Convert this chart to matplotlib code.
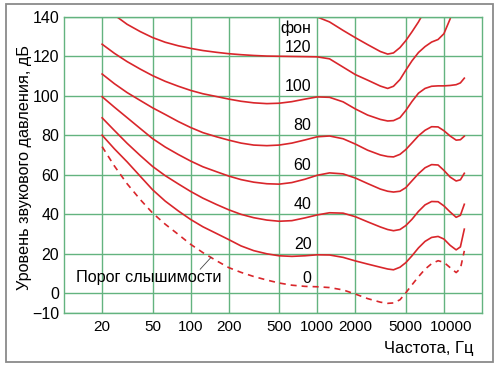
import numpy as np
import matplotlib
matplotlib.use("Agg")
import matplotlib.pyplot as plt
from matplotlib.patches import Rectangle
from matplotlib.transforms import ScaledTranslation

plt.rcParams['font.family'] = ['Liberation Sans', 'DejaVu Sans']

nan = np.nan
freq = [20, 25, 31.5, 40, 50, 63, 80, 100, 125, 160, 200, 250, 315, 400, 500,
        630, 800, 1000, 1250, 1600, 2000, 2500, 3150, 3600, 4000, 4500, 5000,
        5600, 6300, 7100, 8000, 9000, 10000, 11200, 12500, 13500, 14500]

# equal-loudness contours, dB SPL per phon level
phon_0 = [74.3, 64.5, 55.5, 47.5, 40.7, 35.0, 29.8, 24.8, 20.6, 16.5, 13.0, 10.6, 8.5, 6.7, 5.2,
          4.1, 3.5, 3.3, 2.9, 1.7, -0.4, -2.7, -4.5, -5.1, -4.9, -3.3, 0.2,
          4.3, 8.4, 12.2, 15.0, 16.5, 15.7, 13.0, 10.5, 12.5, 21.5]
phon_20 = [80.1, 73.2, 66.6, 59.3, 52.5, 46.7, 41.7, 37.4, 33.7, 30.3, 27.2, 24.0, 21.6, 20.0, 19.0,
           18.7, 19.0, 19.5, 19.4, 18.2, 16.4, 14.8, 13.2, 12.3, 11.9, 13.2, 15.5,
           19.0, 23.0, 26.3, 28.3, 28.8, 27.5, 24.3, 22.0, 23.5, 32.5]
phon_40 = [88.9, 82.5, 76.0, 69.8, 64.3, 59.6, 55.4, 51.6, 48.2, 45.0, 42.3, 40.0, 38.3, 37.1, 36.5,
           36.8, 38.2, 39.7, 40.8, 40.6, 38.8, 36.2, 33.6, 32.3, 31.7, 32.3, 34.3,
           37.5, 41.5, 44.8, 46.5, 46.4, 44.3, 41.2, 38.5, 39.5, 45.1]
phon_60 = [99.6, 94.3, 89.0, 83.5, 78.4, 74.1, 70.3, 67.0, 64.1, 61.6, 59.4, 57.6, 56.3, 55.5, 55.3,
           56.1, 57.8, 59.8, 61.0, 60.5, 58.4, 55.6, 52.8, 51.7, 51.3, 51.7, 53.5,
           57.0, 60.6, 63.6, 65.2, 65.0, 62.3, 58.9, 56.9, 57.5, 60.8]
phon_80 = [111.1, 106.2, 101.7, 97.7, 94.0, 90.6, 87.0, 84.0, 81.4, 79.3, 77.6, 76.1, 75.1, 74.8, 75.1,
           76.1, 77.7, 79.3, 79.7, 78.3, 75.6, 72.5, 70.1, 69.3, 69.1, 70.4, 72.8,
           76.2, 79.8, 82.6, 84.4, 84.3, 82.4, 79.7, 77.6, 77.8, 79.6]
phon_100 = [126.2, 121.6, 117.4, 113.6, 110.3, 107.4, 104.9, 102.8, 101.1, 99.7, 98.4, 97.3, 96.5, 96.1, 96.3,
            97.1, 98.4, 99.5, 99.3, 97.0, 93.4, 90.3, 88.1, 87.3, 87.5, 89.0, 92.6,
            97.2, 101.4, 103.8, 104.9, 105.1, 105.1, 105.3, 105.7, 106.6, 109.0]
phon_120 = [146.5, 141.0, 136.3, 132.6, 129.6, 127.2, 125.4, 124.1, 123.0, 122.1, 121.4, 120.9, 120.5, 120.2, 120.1,
            120.0, 119.9, 119.8, 118.8, 114.6, 110.8, 108.0, 105.0, 103.8, 104.9, 108.3, 113.0,
            117.8, 122.0, 125.0, 127.3, 128.6, 131.5, 139.0, 150.0, nan, nan]
phon_140 = [nan, nan, nan, nan, nan, nan, nan, nan, nan, nan, nan, nan, nan, nan, nan,
            141.5, 141.0, 140.0, 137.5, 133.2, 129.5, 126.0, 122.5, 121.2, 121.8, 124.5, 128.0,
            132.5, 137.5, 143.5, nan, nan, nan, nan, nan, nan, nan]

xticks = [20, 50, 100, 200, 500, 1000, 2000, 5000, 10000]
yticks = [-10, 0, 20, 40, 60, 80, 100, 120, 140]
phon_labels = ['0', '20', '40', '60', '80', '100', '120']
phon_label_y = [7.6, 24.8, 44.8, 64.7, 84.8, 104.7, 124.5]

red = '#d9262b'
green = '#63b37f'

fig = plt.figure(figsize=(5, 3.67), dpi=100)
fig.patches.append(Rectangle((6 / 500, 1 - 362 / 367), 487 / 500, 358 / 367,
                             transform=fig.transFigure, fill=False,
                             edgecolor='#8a8a8a', linewidth=1.3))
ax = fig.add_axes([0.128, 0.1471, 0.836, 0.8066])

ax.plot(freq, phon_0, color=red, lw=1.2, dashes=(3.6, 3.0))
for curve in [phon_20, phon_40, phon_60, phon_80, phon_100, phon_120, phon_140]:
    ax.plot(freq, curve, color=red, lw=1.2)

ax.set_xscale('log')
ax.set_xlim(10, 20000)
ax.set_ylim(-10, 140)
ax.xaxis.set_major_locator(matplotlib.ticker.FixedLocator(xticks))
ax.xaxis.set_minor_locator(matplotlib.ticker.NullLocator())
ax.set_xticklabels([str(t) for t in xticks])
ax.set_yticks(yticks)
ax.set_yticklabels(['\u221210' if t < 0 else str(t) for t in yticks])
ax.tick_params(axis='x', length=0, labelsize=11, pad=5)
ax.tick_params(axis='y', length=0, labelsize=11.5, pad=3.5)
ax.grid(True, color=green, lw=1.0)
for s in ax.spines.values():
    s.set_color(green)
    s.set_linewidth(1.0)

# the 10000 label sits a little right of its grid line in the original
lbl = ax.get_xticklabels()[-1]
lbl.set_transform(lbl.get_transform() + ScaledTranslation(0.07, 0, fig.dpi_scale_trans))

for lab, yv in zip(phon_labels, phon_label_y):
    ax.text(900, yv, lab, ha='right', va='center', fontsize=11.5)
ax.text(900, 134.3, 'фон', ha='right', va='center', fontsize=11.5)

ax.text(12.4, 8, 'Порог слышимости', ha='left', va='center', fontsize=11.7)
ax.plot([119, 145], [12.2, 18.2], color='#444444', lw=0.6)

fig.text(474 / 500, 1 - 348 / 367, 'Частота, Гц', ha='right', va='center', fontsize=12)
fig.text(25 / 500, 1 - 168 / 367, 'Уровень звукового давления, дБ', ha='center',
         va='center', rotation=90, fontsize=11.7)

fig.savefig('out.png', dpi=100)
